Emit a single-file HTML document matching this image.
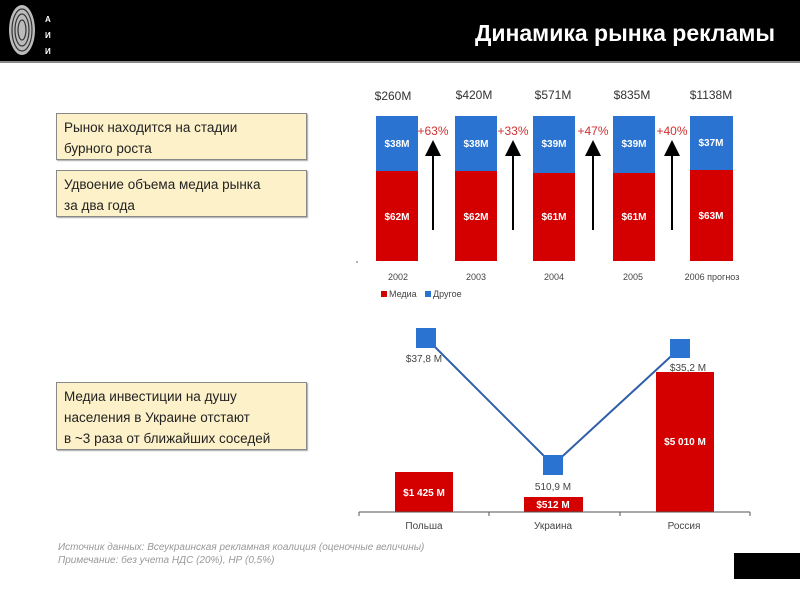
<!DOCTYPE html>
<html><head><meta charset="utf-8"><style>
body{margin:0;width:800px;height:600px;position:relative;background:#fff;font-family:"Liberation Sans",sans-serif;overflow:hidden}
.hdr{position:absolute;left:0;top:0;width:800px;height:61px;background:#000;border-bottom:2px solid #888}
.title{position:absolute;right:25px;top:20px;color:#fff;font-size:23px;font-weight:bold}
.box{position:absolute;left:56px;width:251px;background:#fdf1c9;border:1px solid #888;box-shadow:1px 1px 1px #aaa;font-size:13.5px;color:#222;line-height:21px;padding:3px 0 0 7px;box-sizing:border-box}
.ft{position:absolute;left:58px;font-size:10px;font-style:italic;color:#999}
</style></head><body>
<div class="hdr">
<svg width="60" height="60" style="position:absolute;left:5px;top:2px">
<ellipse cx="17" cy="28" rx="13" ry="25" fill="#bbb"/>
<g fill="none" stroke="#333" stroke-width="1.2">
<ellipse cx="17" cy="28" rx="10" ry="21"/><ellipse cx="17" cy="28" rx="7" ry="16"/><ellipse cx="17" cy="28" rx="4" ry="10"/></g>
<text x="40" y="20" fill="#fff" font-size="8" font-weight="bold">А</text>
<text x="40" y="36" fill="#fff" font-size="8" font-weight="bold">И</text>
<text x="40" y="52" fill="#fff" font-size="8" font-weight="bold">И</text>
</svg>
<div class="title">Динамика рынка рекламы</div>
</div>
<div class="box" style="top:113px;height:47px">Рынок находится на стадии<br>бурного роста</div>
<div class="box" style="top:170px;height:47px">Удвоение объема медиа рынка<br>за два года</div>
<div class="box" style="top:382px;height:68px">Медиа инвестиции на душу<br>населения в Украине отстают<br>в ~3 раза от ближайших соседей</div>
<svg width="800" height="600" style="position:absolute;left:0;top:0" font-family="Liberation Sans, sans-serif">
<defs><marker id="ah" markerWidth="8" markerHeight="8" refX="4" refY="4" orient="auto"><path d="M0,0L8,4L0,8z" fill="#000"/></marker></defs>
<g font-size="12" fill="#333" text-anchor="middle">
<text x="393" y="100">$260M</text><text x="474" y="99">$420M</text><text x="553" y="99">$571M</text><text x="632" y="99">$835M</text><text x="711" y="99">$1138M</text></g>
<g>
<rect x="376" y="116" width="42" height="55" fill="#2a73d0"/><rect x="376" y="171" width="42" height="90" fill="#d40000"/>
<rect x="455" y="116" width="42" height="55" fill="#2a73d0"/><rect x="455" y="171" width="42" height="90" fill="#d40000"/>
<rect x="533" y="116" width="42" height="57" fill="#2a73d0"/><rect x="533" y="173" width="42" height="88" fill="#d40000"/>
<rect x="613" y="116" width="42" height="57" fill="#2a73d0"/><rect x="613" y="173" width="42" height="88" fill="#d40000"/>
<rect x="690" y="116" width="43" height="54" fill="#2a73d0"/><rect x="690" y="170" width="43" height="91" fill="#d40000"/>
</g>
<g font-size="10" font-weight="bold" fill="#fff" text-anchor="middle">
<text x="397" y="147">$38M</text><text x="476" y="147">$38M</text><text x="554" y="147">$39M</text><text x="634" y="147">$39M</text><text x="711" y="146">$37M</text>
<text x="397" y="220">$62M</text><text x="476" y="220">$62M</text><text x="554" y="220">$61M</text><text x="634" y="220">$61M</text><text x="711" y="219">$63M</text></g>
<g font-size="12" fill="#d03030" text-anchor="middle">
<text x="433" y="135">+63%</text><text x="513" y="135">+33%</text><text x="593" y="135">+47%</text><text x="672" y="135">+40%</text></g>
<g stroke="#000" stroke-width="2" marker-end="url(#ah)">
<line x1="433" y1="230" x2="433" y2="148"/><line x1="513" y1="230" x2="513" y2="148"/><line x1="593" y1="230" x2="593" y2="148"/><line x1="672" y1="230" x2="672" y2="148"/></g>
<g font-size="9" fill="#444" text-anchor="middle">
<text x="398" y="280">2002</text><text x="476" y="280">2003</text><text x="554" y="280">2004</text><text x="633" y="280">2005</text><text x="712" y="280">2006 прогноз</text></g>
<rect x="381" y="291" width="6" height="6" fill="#d40000"/><text x="389" y="297" font-size="9" fill="#444">Медиа</text>
<rect x="425" y="291" width="6" height="6" fill="#2a73d0"/><text x="433" y="297" font-size="9" fill="#444">Другое</text>
<line x1="357" y1="261" x2="357" y2="263" stroke="#666"/>
<rect x="395" y="472" width="58" height="40" fill="#d40000"/>
<rect x="524" y="497" width="59" height="15" fill="#d40000"/>
<rect x="656" y="372" width="58" height="140" fill="#d40000"/>
<g font-size="10" font-weight="bold" fill="#fff" text-anchor="middle">
<text x="424" y="496">$1 425 M</text><text x="553" y="508">$512 M</text><text x="685" y="445">$5 010 M</text></g>
<line x1="359" y1="512" x2="750" y2="512" stroke="#555"/>
<g stroke="#555"><line x1="359" y1="512" x2="359" y2="516"/><line x1="489" y1="512" x2="489" y2="516"/><line x1="620" y1="512" x2="620" y2="516"/><line x1="750" y1="512" x2="750" y2="516"/></g>
<polyline points="426,338 553,465 680,348" fill="none" stroke="#2f5fa8" stroke-width="2"/>
<rect x="416" y="328" width="20" height="20" fill="#2a73d0"/><rect x="543" y="455" width="20" height="20" fill="#2a73d0"/><rect x="670" y="339" width="20" height="19" fill="#2a73d0"/>
<g font-size="10" fill="#444" text-anchor="middle">
<text x="424" y="362">$37,8 M</text><text x="553" y="490">510,9 M</text><text x="688" y="371">$35,2 M</text>
<text x="424" y="529">Польша</text><text x="553" y="529">Украина</text><text x="684" y="529">Россия</text></g>
<rect x="734" y="553" width="66" height="26" fill="#000"/>
</svg>
<div class="ft" style="top:542px">Источник данных: Всеукраинская рекламная коалиция (оценочные величины)</div>
<div class="ft" style="top:555px">Примечание: без учета НДС (20%), НР (0,5%)</div>
</body></html>
